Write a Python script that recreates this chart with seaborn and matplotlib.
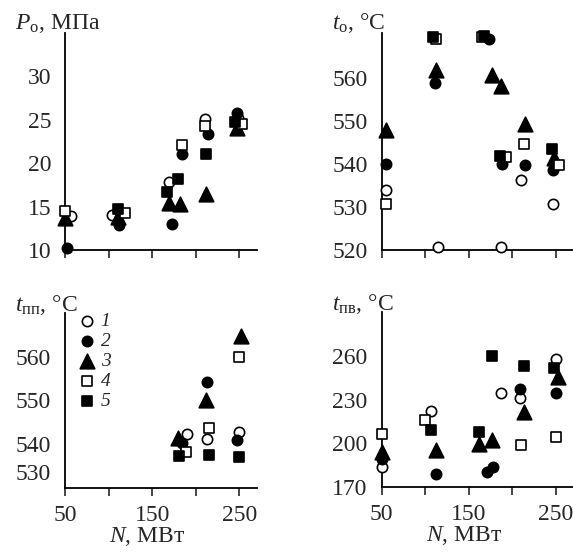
import matplotlib
matplotlib.use("Agg")
import matplotlib.pyplot as plt
import seaborn as sns

# N, MW and measured values for each series (1..5) in each panel
# panel P_o, MPa
po_n = [[57, 104, 169, 210, 248],
        [52, 112, 173, 184, 214, 247],
        [50, 111, 169, 182, 212, 247],
        [50, 119, 184, 211, 253],
        [111, 167, 180, 212, 245]]
po_v = [[13.9, 14.0, 17.8, 25.1, 25.2],
        [10.2, 12.9, 13.0, 21.0, 23.4, 25.8],
        [13.7, 13.8, 15.4, 15.3, 16.5, 24.1],
        [14.5, 14.3, 22.1, 24.3, 24.5],
        [14.7, 16.7, 18.2, 21.0, 24.7]]

# panel t_o, C
to_n = [[55, 115, 187, 210, 247],
        [55, 111.5, 174, 188.5, 215, 247],
        [55, 112, 177, 187, 215, 248],
        [55, 112, 165, 193.5, 213.5, 254],
        [108.8, 168, 186.5, 246]]
to_v = [[534, 520.8, 520.8, 536.2, 530.6],
        [540, 558.8, 569, 540, 539.8, 538.7],
        [548, 561.9, 560.8, 558.2, 549.2, 541.5],
        [530.8, 569, 569.6, 541.6, 544.6, 539.8],
        [569.6, 569.8, 541.9, 543.6]]

# panel t_pp, C
tpp_n = [[190, 213, 249],
         [184, 213, 247],
         [180, 212, 252],
         [189, 215.5, 250],
         [181, 215.5, 249]]
tpp_v = [[542.3, 541.2, 542.9],
         [540.2, 554.1, 541.0],
         [541.5, 550.0, 564.7],
         [538.2, 543.6, 560.0],
         [537.4, 537.6, 537.0]]

# panel t_pv, C
tpv_n = [[51, 106.5, 187, 209.6, 250],
         [51, 112, 171, 178, 209.6, 251],
         [51, 113, 162, 177, 213.5, 253],
         [51, 100, 210.4, 251],
         [106.5, 162, 177, 213.5, 248]]
tpv_v = [[184, 222.3, 234.3, 230.9, 257.5],
         [189, 179, 180.2, 183.6, 237.5, 234.3],
         [194, 195.5, 199.5, 202, 221.6, 245.7],
         [206.5, 216, 198.9, 204.5],
         [209.3, 208, 259.8, 253, 251.4]]

series_labels = ['1', '2', '3', '4', '5']
markers = ['o', 'o', '^', 's', 's']
faces = ['white', 'black', 'black', 'white', 'black']
sizes = [55, 55, 110, 55, 60]

sns.set_theme(style="white")
plt.rcParams['font.family'] = ['Liberation Serif', 'DejaVu Serif']
plt.rcParams['mathtext.fontset'] = 'custom'
plt.rcParams['mathtext.rm'] = 'Liberation Serif'
plt.rcParams['mathtext.it'] = 'Liberation Serif:italic'

fig = plt.figure(figsize=(5.73, 5.58), dpi=100)
ax_po = fig.add_axes([0.1134, 0.552, 0.335, 0.389])
ax_to = fig.add_axes([0.666, 0.552, 0.334, 0.389])
ax_pp = fig.add_axes([0.1134, 0.1254, 0.335, 0.314])
ax_pv = fig.add_axes([0.666, 0.127, 0.334, 0.314])

panels = [
    (ax_po, po_n, po_v, (10, 35), [10, 15, 20, 25, 30], r'$P_{\mathrm{o}}$, МПа'),
    (ax_to, to_n, to_v, (520, 570.5), [520, 530, 540, 550, 560], r'$t_{\mathrm{o}}$, °C'),
    (ax_pp, tpp_n, tpp_v, (530, 570), [540, 550, 560], r'$t_{\mathrm{пп}}$, °C'),
    (ax_pv, tpv_n, tpv_v, (170, 290), [170, 200, 230, 260], r'$t_{\mathrm{пв}}$, °C'),
]

for i, (ax, xs, ys, ylim, yticks, ylab) in enumerate(panels):
    for k in range(5):
        sns.scatterplot(x=xs[k], y=ys[k], ax=ax, marker=markers[k], s=sizes[k],
                        color=faces[k], edgecolor='black', linewidth=1.2,
                        label=series_labels[k], legend=False, zorder=3, clip_on=False)
    ax.set_xlim(50, 270)
    ax.set_ylim(*ylim)
    ax.set_yticks(yticks)
    ax.set_xticks([50, 100, 150, 200, 250])
    if i >= 2:
        ax.set_xticklabels(['50', '', '150', '', '250'])
        ax.set_xlabel(r'$N$, МВт', fontsize=17)
        ax.xaxis.set_label_coords(0.43, -0.21)
    else:
        ax.set_xticklabels([])
    ax.tick_params(axis='x', direction='out', length=6, width=1.2, labelsize=17, pad=6, bottom=True)
    ax.tick_params(axis='y', length=0, labelsize=17, pad=10)
    for side in ['top', 'right']:
        ax.spines[side].set_visible(False)
    for side in ['left', 'bottom']:
        ax.spines[side].set_color('black')
        ax.spines[side].set_linewidth(1.3)
    ax.text(-0.26, 1.045, ylab, transform=ax.transAxes, fontsize=17, ha='left', va='center')

# the lowest label of the t_pp panel sits a little above the axis line
ax_pp.text(-0.072, 533.2, '530', transform=ax_pp.get_yaxis_transform(),
           fontsize=17, ha='right', va='center')

handles, labels = ax_pp.get_legend_handles_labels()
leg = ax_pp.legend(handles, labels, loc='upper left', bbox_to_anchor=(0.065, 1.0),
                   frameon=False, handlelength=1.0, handletextpad=0.2, labelspacing=0.12,
                   borderpad=0, borderaxespad=0,
                   prop={'family': 'Liberation Serif', 'style': 'italic', 'size': 14})

fig.savefig('out.png', dpi=100)
